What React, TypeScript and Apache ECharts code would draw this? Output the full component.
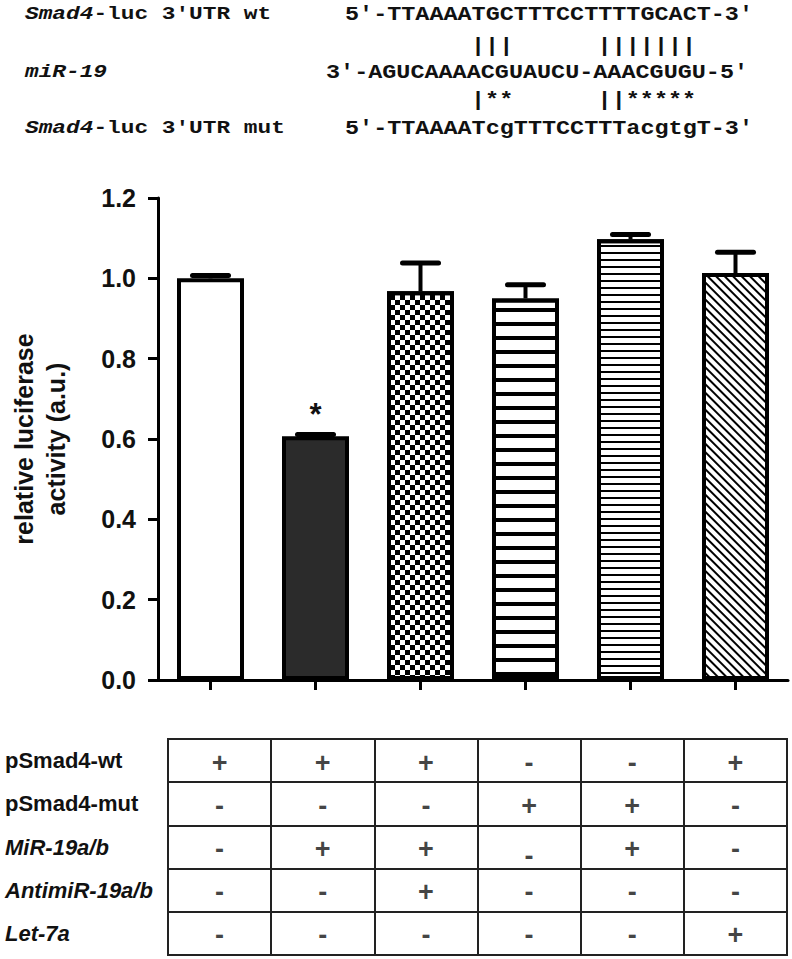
import React, { useEffect, useRef } from 'react';
import * as echarts from 'echarts';

// ---------- data ----------
const categories = ['wt', 'wt + miR-19a/b', 'wt + miR-19a/b + antimiR-19a/b', 'mut', 'mut + miR-19a/b', 'wt + let-7a'];
const meanValues = [1.0, 0.607, 0.968, 0.95, 1.097, 1.013];
const errorValues = [0.007, 0.004, 0.07, 0.034, 0.012, 0.052];
const significance = ['', '*', '', '', '', ''];
const yMin = 0;
const yMax = 1.2;
const yStep = 0.2;
const yAxisTitle = 'relative luciferase\nactivity (a.u.)';

const tableRows = ['pSmad4-wt', 'pSmad4-mut', 'MiR-19a/b', 'AntimiR-19a/b', 'Let-7a'];
const tableRowItalic = [false, false, true, true, true];
const tableSigns = [
  ['+', '+', '+', '-', '-', '+'],
  ['-', '-', '-', '+', '+', '-'],
  ['-', '+', '+', '-', '+', '-'],
  ['-', '-', '+', '-', '-', '-'],
  ['-', '-', '-', '-', '-', '+'],
];

const seqLabels = ['{i|Smad4}-luc 3′UTR wt', '', '{i|miR-19}', '', '{i|Smad4}-luc 3′UTR mut'];
const seqLines = [
  '5′-TTAAAATGCTTTCCTTTTGCACT-3′',
  '|||      |||||||',
  '3′-AGUCAAAACGUAUCU-AAACGUGU-5′',
  '|**      ||*****',
  '5′-TTAAAATcgTTTCCTTTacgtgT-3′',
];

// ---------- styles ----------
const SANS = '"Liberation Sans", Arial, Helvetica, sans-serif';
const MONO = '"Liberation Mono", "Courier New", monospace';
const INK = '#111';

const decals: any[] = [
  null,
  null,
  { symbol: 'rect', symbolSize: 1, dashArrayX: [[4.4, 4.4], [0, 4.4, 4.4, 0]], dashArrayY: [4.4, 0], color: '#000', backgroundColor: '#fff' },
  { symbol: 'rect', symbolSize: 1, dashArrayX: [1, 0], dashArrayY: [4, 10], color: '#000', backgroundColor: '#fff' },
  { symbol: 'rect', symbolSize: 1, dashArrayX: [1, 0], dashArrayY: [2, 5], color: '#000', backgroundColor: '#fff' },
  { symbol: 'rect', symbolSize: 1, dashArrayX: [1, 0], dashArrayY: [2, 3.3], rotation: Math.PI / 4, color: '#000', backgroundColor: '#fff' },
];
const barFills = ['#fff', '#2b2b2b', '#fff', '#fff', '#fff', '#fff'];

const seqRowY = [14, 46, 72, 100, 128];
const seqRowX = [345, 471, 326, 471, 345];

export default function App() {
  const ref = useRef<HTMLDivElement>(null);

  useEffect(() => {
    document.body.style.margin = '0';
    const chart = echarts.init(ref.current!, undefined, { renderer: 'svg' });

    const graphic: any[] = [];
    seqLabels.forEach((t, i) => {
      if (!t) return;
      graphic.push({
        type: 'text',
        x: 25,
        y: seqRowY[i],
        scaleX: 1.2,
        style: {
          text: t,
          fontFamily: MONO,
          fontSize: 19,
          fontWeight: 'bold',
          fill: INK,
          verticalAlign: 'middle',
          rich: {
            i: { fontFamily: MONO, fontSize: 19, fontWeight: 'bold', fontStyle: 'italic', fill: INK },
          },
        },
      });
    });
    seqLines.forEach((t, i) => {
      graphic.push({
        type: 'text',
        x: seqRowX[i],
        y: seqRowY[i],
        scaleX: 1.117,
        style: {
          text: t,
          fontFamily: MONO,
          fontSize: 21,
          fontWeight: 'bold',
          fill: INK,
          verticalAlign: 'middle',
        },
      });
    });

    const tableData: any[] = [];
    tableSigns.forEach((row, r) => {
      row.forEach((s, c) => {
        const lowered = r === 2 && c === 3;
        tableData.push({
          value: [c, r],
          label: { formatter: () => tableSigns[r][c], offset: [0, lowered ? 9 : 2] },
        });
      });
    });

    chart.setOption({
      animation: false,
      backgroundColor: '#fff',
      graphic,
      grid: [
        { left: 158, right: 4, top: 198, height: 482 },
        { left: 168, right: 5, top: 739, bottom: 4, show: true, borderColor: '#222', borderWidth: 2, backgroundColor: 'transparent' },
      ],
      xAxis: [
        {
          type: 'category',
          gridIndex: 0,
          data: categories,
          boundaryGap: true,
          axisLine: { show: true, lineStyle: { color: '#000', width: 3 } },
          axisTick: { show: true, interval: 0, alignWithLabel: true, length: 10, lineStyle: { color: '#000', width: 3 } },
          axisLabel: { show: false, interval: 0 },
          splitLine: { show: false },
        },
        {
          type: 'category',
          gridIndex: 1,
          data: categories,
          boundaryGap: true,
          axisLine: { show: false },
          axisTick: { show: false, interval: 0 },
          axisLabel: { show: false, interval: 0 },
          splitLine: { show: true, interval: 0, lineStyle: { color: '#222', width: 2 } },
        },
      ],
      yAxis: [
        {
          type: 'value',
          gridIndex: 0,
          min: yMin,
          max: yMax,
          interval: yStep,
          axisLine: { show: true, lineStyle: { color: '#000', width: 3 } },
          axisTick: { show: true, length: 10, lineStyle: { color: '#000', width: 3 } },
          axisLabel: {
            formatter: (v: number) => v.toFixed(1),
            fontFamily: SANS,
            fontSize: 25,
            fontWeight: 'bold',
            color: INK,
            margin: 22,
          },
          splitLine: { show: false },
          name: yAxisTitle,
          nameLocation: 'middle',
          nameRotate: 90,
          nameGap: 86,
          nameTextStyle: { fontFamily: SANS, fontSize: 25, fontWeight: 'bold', color: INK, lineHeight: 32 },
        },
        {
          type: 'category',
          gridIndex: 1,
          data: tableRows,
          inverse: true,
          boundaryGap: true,
          axisLine: { show: false },
          axisTick: { show: false, interval: 0 },
          splitLine: { show: true, interval: 0, lineStyle: { color: '#222', width: 2 } },
          axisLabel: {
            show: true,
            interval: 0,
            align: 'left',
            margin: 163,
            fontFamily: SANS,
            fontSize: 22,
            fontWeight: 'bold',
            color: INK,
            formatter: (v: string, i: number) => (tableRowItalic[i] ? `{i|${v}}` : v),
            rich: {
              i: { fontFamily: SANS, fontSize: 22, fontWeight: 'bold', fontStyle: 'italic', color: INK },
            },
          },
        },
      ],
      series: [
        {
          type: 'bar',
          xAxisIndex: 0,
          yAxisIndex: 0,
          barWidth: 67,
          data: meanValues.map((v, i) => ({
            value: v,
            itemStyle: {
              color: barFills[i],
              borderColor: '#000',
              borderWidth: 4,
              decal: decals[i] || undefined,
            },
            label: significance[i]
              ? {
                  show: true,
                  position: 'top',
                  distance: 6,
                  formatter: significance[i],
                  fontFamily: SANS,
                  fontSize: 31,
                  fontWeight: 'bold',
                  color: INK,
                }
              : { show: false },
          })),
          silent: true,
          z: 2,
        },
        {
          type: 'custom',
          xAxisIndex: 0,
          yAxisIndex: 0,
          data: meanValues.map((v, i) => [i, v, errorValues[i]]),
          z: 3,
          silent: true,
          renderItem: (params: any, api: any) => {
            const x = api.value(0);
            const m = api.value(1);
            const e = api.value(2);
            const base = api.coord([x, m]);
            const top = api.coord([x, m + e]);
            const hw = 18;
            return {
              type: 'group',
              children: [
                { type: 'line', shape: { x1: base[0], y1: base[1], x2: top[0], y2: top[1] }, style: { stroke: '#000', lineWidth: 4 } },
                { type: 'line', shape: { x1: top[0] - hw, y1: top[1], x2: top[0] + hw, y2: top[1] }, style: { stroke: '#000', lineWidth: 5, lineCap: 'round' } },
              ],
            };
          },
        },
        {
          type: 'scatter',
          xAxisIndex: 1,
          yAxisIndex: 1,
          symbolSize: 0,
          silent: true,
          data: tableData,
          label: {
            show: true,
            position: 'inside',
            fontFamily: SANS,
            fontSize: 27,
            fontWeight: 'bold',
            color: INK,
          },
        },
      ],
    });

    return () => chart.dispose();
  }, []);

  return <div ref={ref} style={{ width: 792, height: 959 }} />;
}
